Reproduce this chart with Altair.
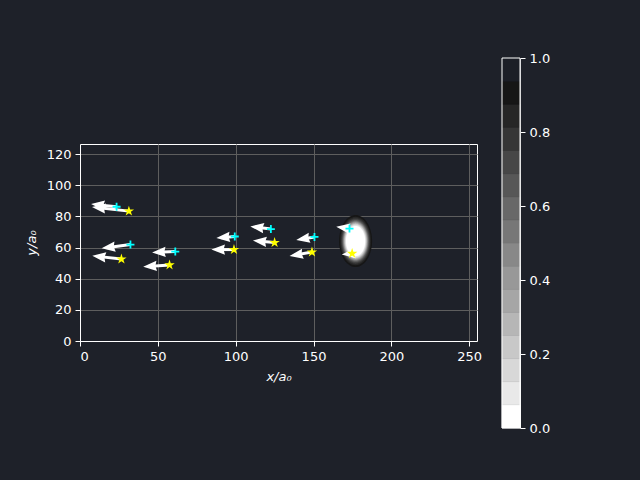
import altair as alt
import numpy as np
import pandas as pd

BG = "#1e2129"
GRID = "#5e5e5e"

# ---- data (data units) ----
# cyan "+" markers and their (u, v) arrow components
cyan_x = [23.5, 32.4, 61.2, 99.4, 122.6, 150.6, 173.1]
cyan_y = [86.2, 61.9, 57.4, 67.1, 71.9, 66.8, 72.2]
cyan_u = [-16.4, -18.5, -14.9, -11.8, -13.2, -11.7, -8.5]
cyan_v = [1.7, -2.4, -0.5, -1.0, 1.7, -2.0, 1.2]

# yellow star markers and their (u, v) arrow components
star_x = [31.4, 26.6, 57.5, 98.9, 125.0, 149.0, 174.8]
star_y = [83.4, 52.6, 48.8, 58.7, 63.2, 57.1, 56.2]
star_u = [-23.7, -18.7, -16.9, -14.5, -13.9, -14.4, -6.7]
star_v = [2.6, 2.1, -1.1, 0.0, 1.3, -2.5, -0.6]

# field blob: centre, outer semi-axes and relative size of each contour level
blob_cx, blob_cy = 177.0, 64.2
blob_rx, blob_ry = 10.6, 16.7
contour_levels = [0.0625, 0.125, 0.1875, 0.25, 0.3125, 0.375, 0.4375, 0.5,
                  0.5625, 0.625, 0.6875, 0.75, 0.8125, 0.875, 0.9375]
contour_frac = [0.58, 0.61, 0.64, 0.66, 0.68, 0.70, 0.72, 0.74,
                0.76, 0.78, 0.81, 0.84, 0.88, 0.93, 1.0]

# colorbar bands
cbar_edges = [0.0, 0.0625, 0.125, 0.1875, 0.25, 0.3125, 0.375, 0.4375, 0.5,
              0.5625, 0.625, 0.6875, 0.75, 0.8125, 0.875, 0.9375, 1.0]
cbar_colors = ["#ffffff", "#e9e9e9", "#d8d8d8", "#c8c8c8", "#b6b6b6", "#a6a6a6",
               "#989898", "#888888", "#777777", "#686868", "#575757", "#474747",
               "#363636", "#262626", "#161616", "#1c1f27"]
cbar_ticks = [0.0, 0.2, 0.4, 0.6, 0.8, 1.0]

x_ticks = [0, 50, 100, 150, 200, 250]
y_ticks = [0, 20, 40, 60, 80, 100, 120]

XMAX, YMAX = 255, 126.5
W, H = 397, 197

xs = alt.Scale(domain=[0, XMAX], nice=False, zero=False)
ys = alt.Scale(domain=[0, YMAX], nice=False, zero=False)

axis_x = alt.Axis(values=x_ticks, title="x/a₀", grid=True,
                  titleFontStyle="italic", titlePadding=7)
axis_y = alt.Axis(values=y_ticks, title="y/a₀", grid=True,
                  titleFontStyle="italic", titlePadding=8)


def X(f):
    return alt.X(f, scale=xs, axis=axis_x)


def Y(f, **kw):
    return alt.Y(f, scale=ys, axis=axis_y, **kw)


# ---- blob layers (outermost first) ----
t = np.linspace(0, np.pi, 73)
blob_layers = []
for j in range(len(contour_levels) - 1, -1, -1):
    f = contour_frac[j]
    d = pd.DataFrame({
        "x": blob_cx + blob_rx * f * np.cos(t),
        "y": blob_cy + blob_ry * f * np.sin(t),
        "y2": blob_cy - blob_ry * f * np.sin(t),
    })
    blob_layers.append(
        alt.Chart(d).mark_area(color=cbar_colors[j], orient="vertical").encode(
            x=X("x:Q"), y=Y("y:Q", stack=None), y2="y2:Q",
        )
    )

# ---- arrows ----
def arrows(px, py, u, v):
    df = pd.DataFrame({"x": px, "y": py, "u": u, "v": v})
    L = np.hypot(df.u, df.v)
    df["tx"] = df.x + df.u
    df["ty"] = df.y + df.v
    back = np.minimum(3.2, L)
    df["sx"] = df.tx - df.u / L * back
    df["sy"] = df.ty - df.v / L * back
    df["ang"] = (90 - np.degrees(np.arctan2(df.v, df.u))) % 360
    return df

arr = pd.concat([arrows(cyan_x, cyan_y, cyan_u, cyan_v),
                 arrows(star_x, star_y, star_u, star_v)], ignore_index=True)

shafts = alt.Chart(arr).mark_rule(color="white", strokeWidth=3, strokeCap="butt").encode(
    x=X("x:Q"), y=Y("y:Q"), x2="sx:Q", y2="sy:Q"
)
HEAD = "M 0 0 L 1.5 4 L 0 3.6 L -1.5 4 Z"
heads = alt.Chart(arr).mark_point(shape=HEAD, filled=True, color="white", size=46,
                                  opacity=1).encode(
    x=X("tx:Q"), y=Y("ty:Q"), angle=alt.Angle("ang:Q", scale=None),
)

PLUS = "M -1 0 L 1 0 M 0 -1 L 0 1"
STAR = ("M 0 -1 L 0.225 -0.309 L 0.951 -0.309 L 0.363 0.118 L 0.588 0.809 "
        "L 0 0.382 L -0.588 0.809 L -0.363 0.118 L -0.951 -0.309 L -0.225 -0.309 Z")

cyan_df = pd.DataFrame({"x": cyan_x, "y": cyan_y})
star_df = pd.DataFrame({"x": star_x, "y": star_y})
cyan_pts = alt.Chart(cyan_df).mark_point(shape=PLUS, filled=False, color="#00ffff",
                                         strokeWidth=1.8, size=64, opacity=1).encode(
    x=X("x:Q"), y=Y("y:Q"))
star_pts = alt.Chart(star_df).mark_point(shape=STAR, filled=True, color="#ffff00",
                                         size=120, opacity=1).encode(
    x=X("x:Q"), y=Y("y:Q"))

main = alt.layer(*blob_layers, shafts, heads, cyan_pts, star_pts)

# ---- colorbar: its own x / y scales placed to the right of the plot ----
cbx = alt.Scale(domain=[0, 1], range=[422, 440])
cby = alt.Scale(domain=[0, 1], range=[284, -86], nice=False, zero=False)
cb_axis = alt.Axis(orient="right", values=cbar_ticks, format=".1f",
                   title=None, grid=False, offset=43)
cb = pd.DataFrame({"lo": cbar_edges[:-1], "hi": cbar_edges[1:], "color": cbar_colors,
                   "x0": 0, "x1": 1})
cbar = alt.Chart(cb).mark_rect(strokeWidth=0.6).encode(
    x=alt.X("x0:Q", scale=cbx, axis=None), x2="x1:Q",
    y=alt.Y("lo:Q", scale=cby, axis=cb_axis), y2="hi:Q",
    color=alt.Color("color:N", scale=None),
    stroke=alt.Stroke("color:N", scale=None),
)
cbar_box = alt.Chart(pd.DataFrame({"x0": [0], "x1": [1], "lo": [0], "hi": [1]})).mark_rect(
    filled=False, stroke="white", strokeWidth=1).encode(
    x=alt.X("x0:Q", scale=cbx, axis=None), x2="x1:Q",
    y=alt.Y("lo:Q", scale=cby, axis=cb_axis), y2="hi:Q")
colorbar = alt.layer(cbar, cbar_box)

chart = alt.layer(main, colorbar).resolve_scale(x="independent", y="independent").properties(
    width=W, height=H,
    background=BG,
    autosize=alt.AutoSizeParams(type="none"),
    padding={"left": 80, "top": 144, "right": 640 - 80 - W, "bottom": 480 - 144 - H},
).configure_view(stroke="white", strokeWidth=1).configure_axis(
    labelColor="white", titleColor="white", domainColor="white", tickColor="white",
    gridColor=GRID, gridOpacity=1, gridWidth=1, domainWidth=1, tickWidth=1, tickSize=5,
    labelFont="DejaVu Sans", titleFont="DejaVu Sans", labelFontSize=13, titleFontSize=13,
    titleFontWeight="normal", labelPadding=4,
)

chart.save("out.html", embed_options={"renderer": "svg", "actions": False})
